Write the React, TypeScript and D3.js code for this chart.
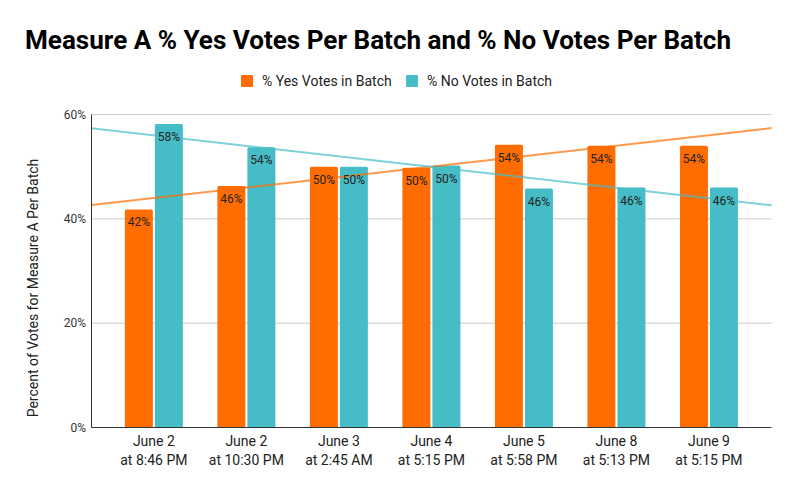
import React, { useEffect, useRef } from 'react';
import * as d3 from 'd3';

const categories = [
  ['June 2', 'at 8:46 PM'],
  ['June 2', 'at 10:30 PM'],
  ['June 3', 'at 2:45 AM'],
  ['June 4', 'at 5:15 PM'],
  ['June 5', 'at 5:58 PM'],
  ['June 8', 'at 5:13 PM'],
  ['June 9', 'at 5:15 PM'],
];
const yesVotes = [41.8, 46.3, 50.0, 49.8, 54.2, 54.0, 54.0];
const noVotes = [58.2, 53.7, 50.0, 50.2, 45.8, 46.0, 46.0];
const yTicks = [0, 20, 40, 60];
const seriesNames = ['% Yes Votes in Batch', '% No Votes in Batch'];
const seriesColors = ['#ff6d01', '#46bdc6'];

const W = 796;
const H = 493;

// least squares fit over category index
function fit(vals: number[]) {
  const n = vals.length;
  const mx = d3.mean(vals.map((_, i) => i)) as number;
  const my = d3.mean(vals) as number;
  let sxy = 0;
  let sxx = 0;
  vals.forEach((v, i) => {
    sxy += (i - mx) * (v - my);
    sxx += (i - mx) * (i - mx);
  });
  const slope = sxy / sxx;
  return (i: number) => my + slope * (i - mx);
}

const App: React.FC = () => {
  const svgRef = useRef<SVGSVGElement>(null);

  useEffect(() => {
    if (!svgRef.current) return;
    const svg = d3.select(svgRef.current);
    svg.selectAll('*').remove();

    const plotLeft = 91.5;
    const plotRight = 771.5;
    const top = 114.5;
    const bottom = 427.5;
    const font = 'Roboto, sans-serif';

    const x0 = d3.scaleBand<number>()
      .domain(categories.map((_, i) => i))
      .range([107.6, 755.2]);
    const step = x0.bandwidth();
    const barW = 28;
    const gap = 2;

    const y = d3.scaleLinear().domain([0, 60]).range([bottom, top]);

    // title
    svg.append('text')
      .attr('x', 25)
      .attr('y', 49)
      .attr('font-family', font)
      .attr('font-weight', 'bold')
      .attr('font-size', 26)
      .attr('fill', '#000')
      .attr('textLength', 706)
      .attr('lengthAdjust', 'spacingAndGlyphs')
      .text('Measure A % Yes Votes Per Batch and % No Votes Per Batch');

    // legend
    const legendX = [241, 406];
    seriesNames.forEach((name, k) => {
      svg.append('rect')
        .attr('x', legendX[k])
        .attr('y', 75)
        .attr('width', 12)
        .attr('height', 12)
        .attr('rx', 1)
        .attr('fill', seriesColors[k]);
      svg.append('text')
        .attr('x', legendX[k] + 21)
        .attr('y', 86)
        .attr('font-family', font)
        .attr('font-size', 14)
        .attr('fill', '#222')
        .text(name);
    });

    // gridlines
    svg.append('g')
      .selectAll('line')
      .data(yTicks.filter(t => t > 0))
      .enter()
      .append('line')
      .attr('x1', plotLeft)
      .attr('x2', plotRight)
      .attr('y1', d => y(d))
      .attr('y2', d => y(d))
      .attr('stroke', '#cccccc')
      .attr('stroke-width', 1);

    // y tick labels
    svg.append('g')
      .selectAll('text')
      .data(yTicks)
      .enter()
      .append('text')
      .attr('x', 86)
      .attr('y', d => y(d) + 4)
      .attr('text-anchor', 'end')
      .attr('font-family', font)
      .attr('font-size', 12)
      .attr('fill', '#333')
      .text(d => `${d}%`);

    // y axis title
    svg.append('text')
      .attr('transform', `translate(38,${288}) rotate(-90)`)
      .attr('text-anchor', 'middle')
      .attr('font-family', font)
      .attr('font-size', 14)
      .attr('fill', '#222')
      .text('Percent of Votes for Measure A Per Batch');

    const series = [yesVotes, noVotes];

    // bars
    series.forEach((vals, k) => {
      svg.append('g')
        .selectAll('rect')
        .data(vals)
        .enter()
        .append('path')
        .attr('d', (d, i) => {
          const cx = (x0(i) as number) + step / 2;
          const bx = k === 0 ? cx - gap / 2 - barW : cx + gap / 2;
          const by = y(d);
          const r = 1.5;
          return `M${bx},${bottom}V${by + r}Q${bx},${by} ${bx + r},${by}H${bx + barW - r}Q${bx + barW},${by} ${bx + barW},${by + r}V${bottom}Z`;
        })
        .attr('fill', seriesColors[k]);
    });

    // trendlines across the whole plot width
    const toIndex = (px: number) => (px - ((x0(0) as number) + step / 2)) / step;
    series.forEach((vals, k) => {
      const f = fit(vals);
      const i1 = toIndex(plotLeft);
      const i2 = toIndex(plotRight);
      svg.append('line')
        .attr('x1', plotLeft)
        .attr('x2', plotRight)
        .attr('y1', y(f(i1)))
        .attr('y2', y(f(i2)))
        .attr('stroke', seriesColors[k])
        .attr('stroke-opacity', 0.7)
        .attr('stroke-width', 2);
    });

    // bar value labels
    series.forEach((vals, k) => {
      svg.append('g')
        .selectAll('text')
        .data(vals)
        .enter()
        .append('text')
        .attr('x', (_, i) => {
          const cx = (x0(i) as number) + step / 2;
          return k === 0 ? cx - gap / 2 - barW / 2 : cx + gap / 2 + barW / 2;
        })
        .attr('y', d => y(d) + 17)
        .attr('text-anchor', 'middle')
        .attr('font-family', font)
        .attr('font-size', 12)
        .attr('fill', '#222')
        .text(d => `${Math.round(d)}%`);
    });

    // axes lines
    svg.append('line')
      .attr('x1', plotLeft).attr('x2', plotLeft)
      .attr('y1', top).attr('y2', bottom)
      .attr('stroke', '#333').attr('stroke-width', 1);
    svg.append('line')
      .attr('x1', plotLeft).attr('x2', plotRight)
      .attr('y1', bottom).attr('y2', bottom)
      .attr('stroke', '#333').attr('stroke-width', 1);

    // x labels
    const xl = svg.append('g')
      .selectAll('text')
      .data(categories)
      .enter()
      .append('text')
      .attr('text-anchor', 'middle')
      .attr('font-family', font)
      .attr('font-size', 14)
      .attr('fill', '#222');
    xl.append('tspan')
      .attr('x', (_, i) => (x0(i) as number) + step / 2)
      .attr('y', 446)
      .text(d => d[0]);
    xl.append('tspan')
      .attr('x', (_, i) => (x0(i) as number) + step / 2)
      .attr('y', 465)
      .text(d => d[1]);
  }, []);

  return (
    <div style={{ position: 'absolute', left: 0, top: 0, width: W, height: H, background: '#fff' }}>
      <svg ref={svgRef} width={W} height={H} />
    </div>
  );
};

export default App;
